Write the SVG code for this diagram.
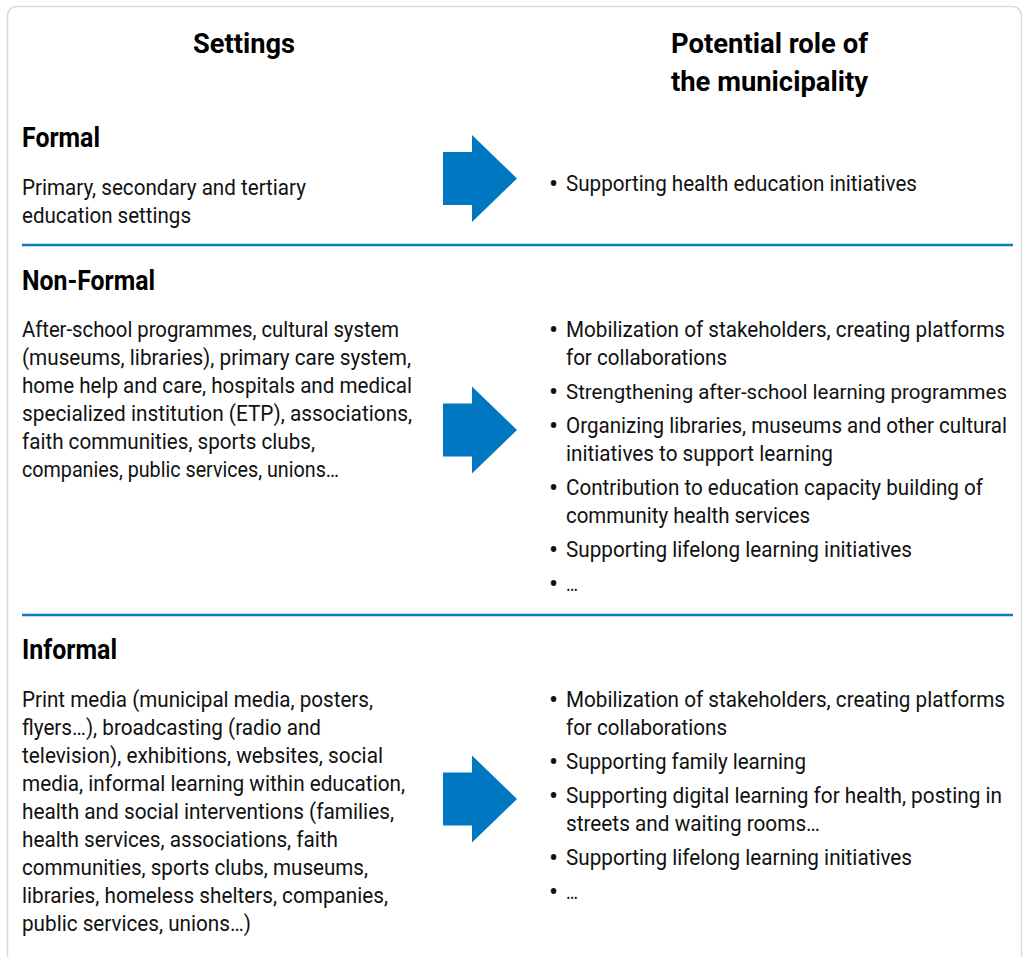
<svg xmlns="http://www.w3.org/2000/svg" width="1027" height="957" viewBox="0 0 1027 957">
<style>
.card{fill:#fff;stroke:#d9d9d9;stroke-width:1.5}
.sep{stroke:#0a7ac4;stroke-width:2.5}
.arr{fill:#0078c1}
.h{font-family:Roboto,"Liberation Sans",sans-serif;font-weight:700;font-size:28.5px;fill:#000}
.t{font-family:Roboto,"Liberation Sans",sans-serif;font-size:21.5px;fill:#111}
.b{font-family:Roboto,"Liberation Sans",sans-serif;font-size:27px;fill:#111}
</style>
<rect width="1027" height="957" fill="#fff"/>
<rect class="card" x="7.5" y="6.5" width="1014" height="1000" rx="9"/>
<g id="headers">
<text class="h" x="193" y="53" textLength="102" lengthAdjust="spacingAndGlyphs">Settings</text>
<text class="h" x="671" y="53" textLength="197" lengthAdjust="spacingAndGlyphs">Potential role of</text>
<text class="h" x="671" y="91" textLength="197" lengthAdjust="spacingAndGlyphs">the municipality</text>
</g>
<g id="separators">
<line class="sep" x1="22" y1="245" x2="1013" y2="245"/>
<line class="sep" x1="22" y1="615" x2="1013" y2="615"/>
</g>
<g id="formal-settings">
<text class="h" x="22" y="147" textLength="78" lengthAdjust="spacingAndGlyphs">Formal</text>
<text class="t" x="22" y="195" textLength="284" lengthAdjust="spacingAndGlyphs">Primary, secondary and tertiary</text>
<text class="t" x="22" y="223" textLength="169" lengthAdjust="spacingAndGlyphs">education settings</text>
</g>
<g id="formal-role">
<text class="b" x="549" y="193">•</text>
<text class="t" x="566" y="191" textLength="351" lengthAdjust="spacingAndGlyphs">Supporting health education initiatives</text>
</g>
<g id="nonformal-settings">
<text class="h" x="22" y="290" textLength="133" lengthAdjust="spacingAndGlyphs">Non-Formal</text>
<text class="t" x="22" y="337" textLength="377" lengthAdjust="spacingAndGlyphs">After-school programmes, cultural system</text>
<text class="t" x="22" y="365" textLength="389" lengthAdjust="spacingAndGlyphs">(museums, libraries), primary care system,</text>
<text class="t" x="22" y="393" textLength="390" lengthAdjust="spacingAndGlyphs">home help and care, hospitals and medical</text>
<text class="t" x="22" y="421" textLength="390" lengthAdjust="spacingAndGlyphs">specialized institution (ETP), associations,</text>
<text class="t" x="22" y="449" textLength="293" lengthAdjust="spacingAndGlyphs">faith communities, sports clubs,</text>
<text class="t" x="22" y="477" textLength="317" lengthAdjust="spacingAndGlyphs">companies, public services, unions…</text>
</g>
<g id="nonformal-role">
<text class="b" x="549" y="339">•</text>
<text class="t" x="566" y="337" textLength="439" lengthAdjust="spacingAndGlyphs">Mobilization of stakeholders, creating platforms</text>
<text class="t" x="566" y="365" textLength="161" lengthAdjust="spacingAndGlyphs">for collaborations</text>
<text class="b" x="549" y="401">•</text>
<text class="t" x="566" y="399" textLength="441" lengthAdjust="spacingAndGlyphs" style="font-size:20.5px">Strengthening after-school learning programmes</text>
<text class="b" x="549" y="435">•</text>
<text class="t" x="566" y="433" textLength="441" lengthAdjust="spacingAndGlyphs">Organizing libraries, museums and other cultural</text>
<text class="t" x="566" y="461" textLength="267" lengthAdjust="spacingAndGlyphs">initiatives to support learning</text>
<text class="b" x="549" y="497">•</text>
<text class="t" x="566" y="495" textLength="417" lengthAdjust="spacingAndGlyphs">Contribution to education capacity building of</text>
<text class="t" x="566" y="523" textLength="244" lengthAdjust="spacingAndGlyphs">community health services</text>
<text class="b" x="549" y="559">•</text>
<text class="t" x="566" y="557" textLength="346" lengthAdjust="spacingAndGlyphs">Supporting lifelong learning initiatives</text>
<text class="b" x="549" y="593">•</text>
<text class="t" x="566" y="591" textLength="12" lengthAdjust="spacingAndGlyphs">…</text>
</g>
<g id="informal-settings">
<text class="h" x="22" y="659" textLength="95" lengthAdjust="spacingAndGlyphs">Informal</text>
<text class="t" x="22" y="707" textLength="351" lengthAdjust="spacingAndGlyphs">Print media (municipal media, posters,</text>
<text class="t" x="22" y="735" textLength="299" lengthAdjust="spacingAndGlyphs">flyers…), broadcasting (radio and</text>
<text class="t" x="22" y="763" textLength="361" lengthAdjust="spacingAndGlyphs">television), exhibitions, websites, social</text>
<text class="t" x="22" y="791" textLength="383" lengthAdjust="spacingAndGlyphs">media, informal learning within education,</text>
<text class="t" x="22" y="819" textLength="372" lengthAdjust="spacingAndGlyphs">health and social interventions (families,</text>
<text class="t" x="22" y="847" textLength="316" lengthAdjust="spacingAndGlyphs">health services, associations, faith</text>
<text class="t" x="22" y="875" textLength="346" lengthAdjust="spacingAndGlyphs">communities, sports clubs, museums,</text>
<text class="t" x="22" y="903" textLength="366" lengthAdjust="spacingAndGlyphs">libraries, homeless shelters, companies,</text>
<text class="t" x="22" y="931" textLength="229" lengthAdjust="spacingAndGlyphs">public services, unions…)</text>
</g>
<g id="informal-role">
<text class="b" x="549" y="709">•</text>
<text class="t" x="566" y="707" textLength="439" lengthAdjust="spacingAndGlyphs">Mobilization of stakeholders, creating platforms</text>
<text class="t" x="566" y="735" textLength="161" lengthAdjust="spacingAndGlyphs">for collaborations</text>
<text class="b" x="549" y="771">•</text>
<text class="t" x="566" y="769" textLength="240" lengthAdjust="spacingAndGlyphs">Supporting family learning</text>
<text class="b" x="549" y="805">•</text>
<text class="t" x="566" y="803" textLength="436" lengthAdjust="spacingAndGlyphs">Supporting digital learning for health, posting in</text>
<text class="t" x="566" y="831" textLength="254" lengthAdjust="spacingAndGlyphs">streets and waiting rooms…</text>
<text class="b" x="549" y="867">•</text>
<text class="t" x="566" y="865" textLength="346" lengthAdjust="spacingAndGlyphs">Supporting lifelong learning initiatives</text>
<text class="b" x="549" y="901">•</text>
<text class="t" x="566" y="899" textLength="12" lengthAdjust="spacingAndGlyphs">…</text>
</g>
<g id="connectors">
<polygon class="arr" points="443,152 472,152 472,135 517,178.5 472,222 472,205 443,205"/>
<polygon class="arr" points="443,403.5 472,403.5 472,386.5 517,430 472,473.5 472,456.5 443,456.5"/>
<polygon class="arr" points="443,772.5 472,772.5 472,755.5 517,799 472,842.5 472,825.5 443,825.5"/>
</g>
</svg>
